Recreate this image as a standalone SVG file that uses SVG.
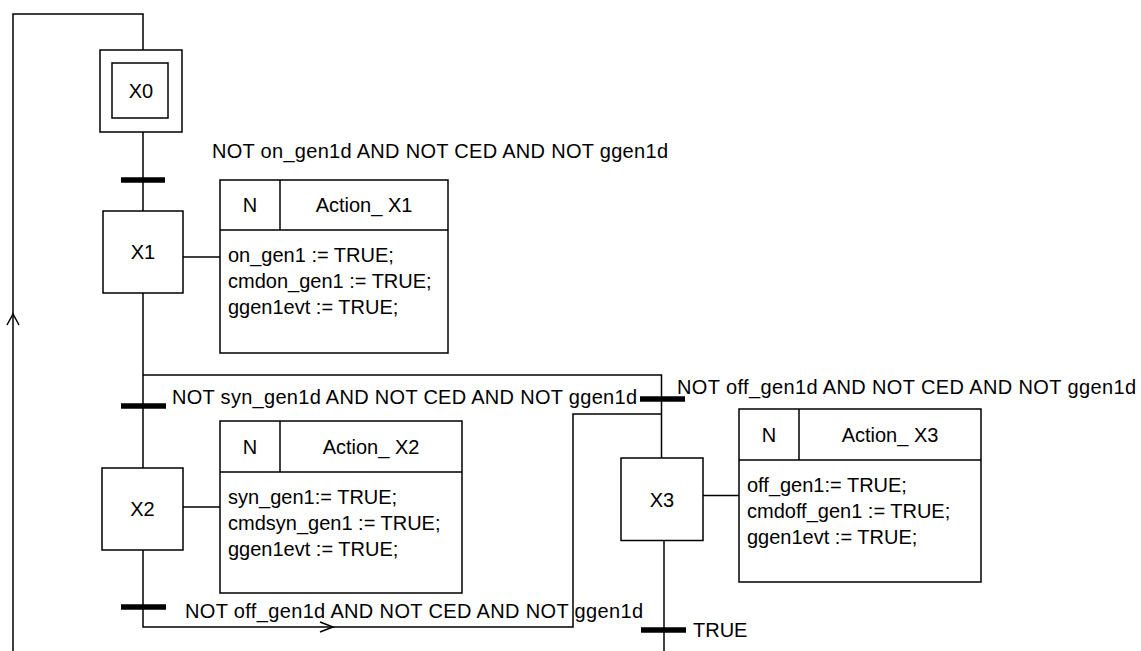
<svg xmlns="http://www.w3.org/2000/svg" width="1141" height="651" viewBox="0 0 1141 651">
<style>
text{font-family:"Liberation Sans",Arial,sans-serif;font-size:20px;fill:#000}
.c{text-anchor:middle}
.box{fill:#fff;stroke:#000;stroke-width:1.5}
.ln{fill:none;stroke:#000;stroke-width:1.5}
.bar{stroke:#000;stroke-width:5.5}
</style>
<rect width="1141" height="651" fill="#fff"/>
<g id="connectors">
<path class="ln" d="M143 50V14H13V651"/>
<path class="ln" d="M7 325L13 314L19 325"/>
<path class="ln" d="M143 132V211M143 293V468M143 375H661.5V458M143 550V627H573V414H661.5"/>
<path class="ln" d="M664 541V651"/>
<path class="ln" d="M320 622L333 627L320 632"/>
<path class="ln" d="M183 257H220M183 507H220M703 495.5H740"/>
<line class="bar" x1="121" y1="180" x2="165" y2="180"/>
<line class="bar" x1="121" y1="406" x2="166" y2="406"/>
<line class="bar" x1="121" y1="607" x2="166" y2="607"/>
<line class="bar" x1="640" y1="399" x2="685" y2="399"/>
<line class="bar" x1="641" y1="630" x2="686" y2="630"/>
<text x="212" y="158" textLength="456" lengthAdjust="spacing">NOT on_gen1d AND NOT CED AND NOT ggen1d</text>
<text x="172" y="404" textLength="465" lengthAdjust="spacing">NOT syn_gen1d AND NOT CED AND NOT ggen1d</text>
<text x="677" y="394" textLength="459" lengthAdjust="spacing">NOT off_gen1d AND NOT CED AND NOT ggen1d</text>
<text x="185" y="618" textLength="458" lengthAdjust="spacing">NOT off_gen1d AND NOT CED AND NOT ggen1d</text>
<text x="693" y="637">TRUE</text>
</g>
<g id="X0">
<rect class="box" x="100" y="50" width="82" height="82"/>
<rect class="box" x="112" y="63" width="56" height="55"/>
<text class="c" x="141" y="98">X0</text>
</g>
<g id="X1">
<rect class="box" x="103" y="211" width="80" height="82"/>
<text class="c" x="143" y="259">X1</text>
</g>
<g id="X2">
<rect class="box" x="102" y="468" width="81" height="82"/>
<text class="c" x="142.5" y="516">X2</text>
</g>
<g id="X3">
<rect class="box" x="621" y="458" width="82" height="82.5"/>
<text class="c" x="662" y="507">X3</text>
</g>
<g id="Action_X1">
<rect class="box" x="220" y="180" width="228" height="173"/>
<path class="ln" d="M220 230H448M280 180V230"/>
<text class="c" x="250" y="212">N</text>
<text class="c" x="364" y="212">Action_ X1</text>
<text x="228" y="262">on_gen1 := TRUE;</text>
<text x="228" y="288">cmdon_gen1 := TRUE;</text>
<text x="228" y="314">ggen1evt := TRUE;</text>
</g>
<g id="Action_X2">
<rect class="box" x="220" y="421" width="242" height="172"/>
<path class="ln" d="M220 472H462M280 421V472"/>
<text class="c" x="250" y="454">N</text>
<text class="c" x="371" y="454">Action_ X2</text>
<text x="228" y="504">syn_gen1:= TRUE;</text>
<text x="228" y="530">cmdsyn_gen1 := TRUE;</text>
<text x="228" y="556">ggen1evt := TRUE;</text>
</g>
<g id="Action_X3">
<rect class="box" x="739" y="409" width="242" height="173"/>
<path class="ln" d="M739 460H981M799 409V460"/>
<text class="c" x="769" y="442">N</text>
<text class="c" x="890" y="442">Action_ X3</text>
<text x="747" y="492">off_gen1:= TRUE;</text>
<text x="747" y="518">cmdoff_gen1 := TRUE;</text>
<text x="747" y="544">ggen1evt := TRUE;</text>
</g>
</svg>
